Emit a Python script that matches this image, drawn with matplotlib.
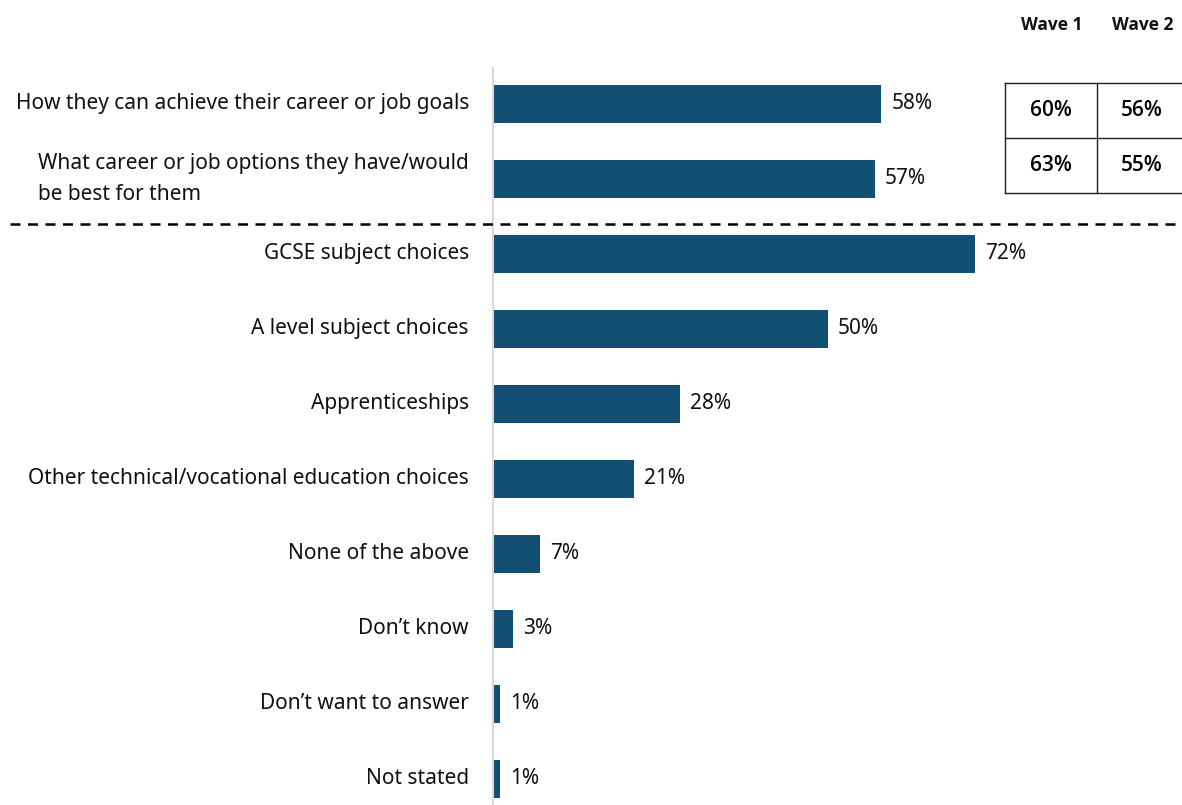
import matplotlib
matplotlib.use("Agg")
import matplotlib.pyplot as plt
from matplotlib.lines import Line2D

categories = [
    "How they can achieve their career or job goals",
    "What career or job options they have/would\nbe best for them",
    "GCSE subject choices",
    "A level subject choices",
    "Apprenticeships",
    "Other technical/vocational education choices",
    "None of the above",
    "Don\u2019t know",
    "Don\u2019t want to answer",
    "Not stated",
]
values = [58, 57, 72, 50, 28, 21, 7, 3, 1, 1]

wave_headers = ["Wave 1", "Wave 2"]
wave1 = [60, 63]
wave2 = [56, 55]

plt.rcParams['font.family'] = ['Noto Sans', 'DejaVu Sans']
BOLD_FAMILY = ['Open Sans', 'DejaVu Sans']
BAR = '#134F73'
TXT = '#111111'
FS = 15

W, H = 1182, 805
fig = plt.figure(figsize=(W / 100, H / 100), dpi=100)

ax_left, ax_right, ax_top, ax_bot = 493, 1000, 68, 805
ax = fig.add_axes([ax_left / W, 1 - ax_bot / H, (ax_right - ax_left) / W, (ax_bot - ax_top) / H])
px_per_pct = (975 - 493) / 72.0
ax.set_xlim(0, (ax_right - ax_left) / px_per_pct)
ax.set_ylim(9.35, -0.48)

ys = list(range(len(categories)))
ax.barh(ys, values, height=0.5, color=BAR)

for y, v, c in zip(ys, values, categories):
    ax.text(v + 1.5, y, f"{v}%", va='center', ha='left', fontsize=FS, color=TXT)
    ax.text(-3.6, y, c, va='center', ha='right', multialignment='left',
            fontsize=FS, color=TXT, linespacing=1.6)

for s in ['top', 'right', 'bottom']:
    ax.spines[s].set_visible(False)
ax.spines['left'].set_color('#d9d9d9')
ax.spines['left'].set_linewidth(1.5)
ax.set_xticks([])
ax.set_yticks([])

# dashed separator between the two groups
sep_y = 1.6
disp = ax.transData.transform((0, sep_y))
fy = fig.transFigure.inverted().transform(disp)[1]
fig.add_artist(Line2D([10 / W, 1.0], [fy, fy], transform=fig.transFigure,
                      color='black', linestyle=(0, (4, 3)), linewidth=1.8))

# comparison table
col_x = [1005, 1097, 1190]
row_y = [83, 138, 193]
def fxy(x, y):
    return x / W, 1 - y / H
lc = '#222222'
for yy in row_y:
    fig.add_artist(Line2D([col_x[0] / W, col_x[2] / W], [1 - yy / H] * 2,
                          transform=fig.transFigure, color=lc, linewidth=1))
for xx in col_x[:2]:
    fig.add_artist(Line2D([xx / W] * 2, [1 - row_y[0] / H, 1 - row_y[2] / H],
                          transform=fig.transFigure, color=lc, linewidth=1))
centers_x = [(col_x[0] + col_x[1]) / 2, (col_x[1] + 1182 + 4) / 2]
for i, hdr in enumerate(wave_headers):
    fig.text(*fxy(centers_x[i] + 1, 25), hdr, ha='center', va='center',
             fontsize=12.5, fontweight='bold', color=TXT, family=BOLD_FAMILY)
for r in range(2):
    cy = (row_y[r] + row_y[r + 1]) / 2
    fig.text(*fxy(centers_x[0], cy), f"{wave1[r]}%", ha='center', va='center',
             fontsize=FS, fontweight='semibold', color='black', family=BOLD_FAMILY)
    fig.text(*fxy(centers_x[1], cy), f"{wave2[r]}%", ha='center', va='center',
             fontsize=FS, fontweight='semibold', color='black', family=BOLD_FAMILY)

fig.savefig('out.png', dpi=100)
